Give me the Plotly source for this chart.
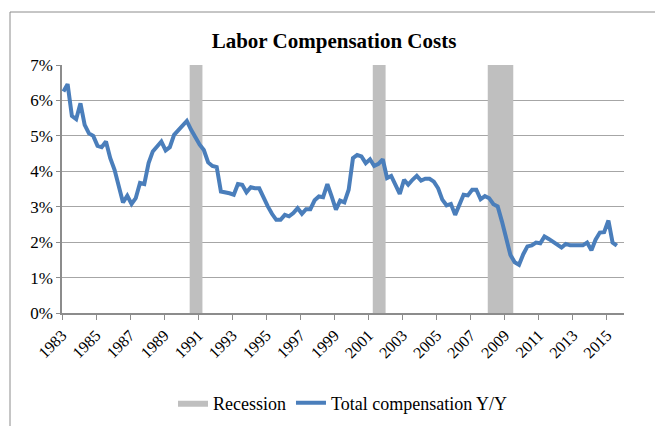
"""Labor compensation costs, Y/Y, with recession shading."""

import pandas as pd
import plotly.graph_objects as go

LINE_BLUE = "#4a7ebb"
RECESSION_GREY = "#bfbfbf"
GRID = "#a6a6a6"
FONT = "Liberation Serif, Times New Roman, serif"

# quarterly total compensation, % change year over year, from 1983 Q1
comp_yy = [
    6.25, 6.46, 5.56, 5.47, 5.92, 5.31, 5.07, 5.00, 4.72, 4.68,
    4.84, 4.37, 4.04, 3.62, 3.12, 3.31, 3.08, 3.24, 3.67, 3.64,
    4.23, 4.56, 4.72, 4.84, 4.59, 4.68, 5.03, 5.17, 5.29, 5.42,
    5.17, 4.95, 4.75, 4.60, 4.25, 4.15, 4.12, 3.43, 3.41, 3.38,
    3.34, 3.64, 3.62, 3.41, 3.55, 3.52, 3.52, 3.24, 3.01, 2.80,
    2.63, 2.63, 2.77, 2.73, 2.82, 2.96, 2.80, 2.93, 2.93, 3.18,
    3.29, 3.27, 3.64, 3.29, 2.92, 3.17, 3.12, 3.48, 4.37, 4.46,
    4.42, 4.23, 4.34, 4.15, 4.21, 4.34, 3.81, 3.87, 3.62, 3.36,
    3.76, 3.62, 3.76, 3.87, 3.74, 3.79, 3.79, 3.71, 3.52, 3.20,
    3.04, 3.08, 2.77, 3.05, 3.34, 3.32, 3.48, 3.48, 3.21, 3.30,
    3.24, 3.07, 3.01, 2.58, 2.07, 1.64, 1.43, 1.36, 1.66, 1.88,
    1.91, 1.99, 1.97, 2.16, 2.09, 2.02, 1.95, 1.85, 1.95, 1.91,
    1.91, 1.91, 1.91, 1.99, 1.77, 2.07, 2.27, 2.28, 2.61, 1.99,
    1.90,
]
quarters = pd.date_range("1983-02-01", periods=len(comp_yy), freq="3MS")

recession_start = ["1990-07-01", "2001-04-01", "2008-01-01"]
recession_end = ["1991-04-01", "2002-01-01", "2009-07-01"]

Y_MAX = 7

rx, ry = [], []
for s, e in zip(recession_start, recession_end):
    rx += [s, e, e, s, s, None]
    ry += [0, 0, Y_MAX, Y_MAX, 0, None]

fig = go.Figure()
fig.add_trace(
    go.Scatter(
        x=rx, y=ry, fill="toself", mode="lines", name="Recession",
        fillcolor=RECESSION_GREY, line={"width": 0, "color": RECESSION_GREY},
        hoverinfo="skip",
    )
)
fig.add_trace(
    go.Scatter(
        x=quarters, y=comp_yy, mode="lines", name="Total compensation Y/Y",
        line={"color": LINE_BLUE, "width": 4},
    )
)

# the page body adds an 8px margin, so the figure is laid out 8px up/left
W, H = 655, 418
L, R, T, B = 54, 616, 57, 305   # plot area in figure pixels
pw, ph = R - L, B - T

fig.add_shape(
    type="rect", xref="paper", yref="paper",
    x0=(2 - L) / pw, x1=(649 - L) / pw, y0=(B - 460) / ph, y1=(B - 4) / ph,
    line={"color": "#8c8c8c", "width": 1}, layer="below",
)

fig.update_layout(
    width=W, height=H,
    margin={"l": L, "r": W - R, "t": T, "b": H - B},
    paper_bgcolor="white", plot_bgcolor="white",
    font={"family": FONT, "size": 16, "color": "#000000"},
    title={
        "text": "<b>Labor Compensation Costs</b>",
        "x": 326 / W, "xanchor": "center",
        "y": 1 - 33 / H, "yanchor": "middle",
        "font": {"family": FONT, "size": 21, "color": "#000000"},
    },
    showlegend=True,
    legend={
        "orientation": "h", "x": 0.5, "xanchor": "center",
        "yref": "container", "y": 1 - 395 / H, "yanchor": "middle",
        "font": {"family": FONT, "size": 18},
        "itemwidth": 30,
    },
    xaxis={
        "type": "date",
        "range": ["1983-01-01", "2016-01-01"],
        "tick0": "1983-01-01", "dtick": "M24", "tickformat": "%Y",
        "tickangle": -45,
        "tickfont": {"family": FONT, "size": 16},
        "showgrid": False, "zeroline": False, "automargin": False,
        "showline": True, "linecolor": "#8c8c8c", "linewidth": 1.5,
        "ticks": "outside", "ticklen": 5, "tickcolor": "#8c8c8c",
    },
    yaxis={
        "range": [0, Y_MAX], "dtick": 1, "ticksuffix": "%",
        "tickfont": {"family": FONT, "size": 17},
        "showgrid": True, "gridcolor": GRID, "gridwidth": 1.3,
        "zeroline": False, "automargin": False,
        "showline": True, "linecolor": "#8c8c8c", "linewidth": 1.5,
        "ticks": "outside", "ticklen": 4, "tickcolor": "#8c8c8c",
    },
)

fig.write_html("out.html")
